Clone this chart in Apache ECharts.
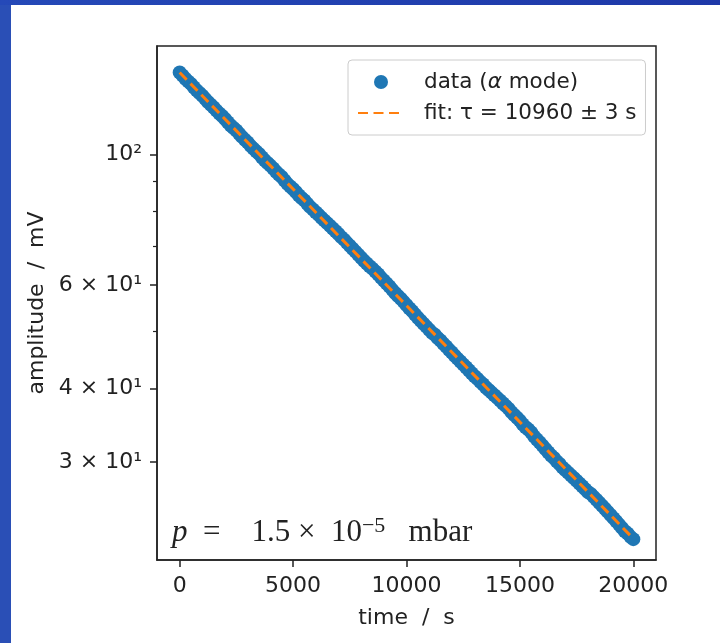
<!DOCTYPE html>
<html>
<head>
<meta charset="utf-8">
<script src="https://cdn.jsdelivr.net/npm/echarts@6/dist/echarts.min.js"></script>
<style>html,body{margin:0;padding:0;background:#fff;}#c{width:720px;height:643px;}</style>
</head>
<body>
<div id="c"></div>
<script>
// ---- data ----
const times = [0,125,250,375,500,625,750,875,1000,1125,1250,1375,1500,1625,1750,1875,2000,2125,2250,2375,2500,2625,2750,2875,3000,3125,3250,3375,3500,3625,3750,3875,4000,4125,4250,4375,4500,4625,4750,4875,5000,5125,5250,5375,5500,5625,5750,5875,6000,6125,6250,6375,6500,6625,6750,6875,7000,7125,7250,7375,7500,7625,7750,7875,8000,8125,8250,8375,8500,8625,8750,8875,9000,9125,9250,9375,9500,9625,9750,9875,10000,10125,10250,10375,10500,10625,10750,10875,11000,11125,11250,11375,11500,11625,11750,11875,12000,12125,12250,12375,12500,12625,12750,12875,13000,13125,13250,13375,13500,13625,13750,13875,14000,14125,14250,14375,14500,14625,14750,14875,15000,15125,15250,15375,15500,15625,15750,15875,16000,16125,16250,16375,16500,16625,16750,16875,17000,17125,17250,17375,17500,17625,17750,17875,18000,18125,18250,18375,18500,18625,18750,18875,19000,19125,19250,19375,19500,19625,19750,19875,20000];
const amplitudes = [137.9,136.3,134.6,133.2,131.9,130.2,128.6,127.3,125.9,124.4,122.9,121.6,120.3,118.8,117.5,116.3,115.0,113.5,112.1,111.0,109.9,108.5,107.2,106.0,104.9,103.5,102.4,101.3,100.3,99.0,97.8,96.8,95.8,94.7,93.5,92.5,91.6,90.4,89.2,88.3,87.4,86.4,85.3,84.4,83.6,82.5,81.5,80.7,79.8,79.0,78.1,77.3,76.5,75.7,74.9,74.1,73.3,72.4,71.7,70.8,70.0,69.2,68.4,67.6,66.8,66.0,65.3,64.6,64.0,63.3,62.6,61.8,61.1,60.4,59.7,58.9,58.2,57.5,56.9,56.2,55.5,54.8,54.2,53.5,52.8,52.2,51.6,51.0,50.4,49.8,49.4,48.8,48.3,47.7,47.2,46.6,46.1,45.5,45.0,44.5,44.0,43.5,43.0,42.5,42.0,41.6,41.1,40.7,40.2,39.8,39.4,39.0,38.6,38.2,37.8,37.4,37.0,36.5,36.1,35.7,35.3,34.8,34.4,34.1,33.7,33.2,32.8,32.4,32.0,31.6,31.2,30.8,30.5,30.1,29.8,29.4,29.1,28.8,28.5,28.2,27.9,27.6,27.3,27.0,26.7,26.5,26.2,25.9,25.6,25.3,25.0,24.7,24.4,24.1,23.8,23.5,23.2,22.9,22.7,22.4,22.2];
const fitTimes = [0, 20000];
const fitValues = [137.9, 22.25];
const xTicks = [0, 5000, 10000, 15000, 20000];
const yTicks = [30, 40, 60, 100];
const yTickLabels = ['3 × 10¹', '4 × 10¹', '6 × 10¹', '10²'];
const yMinorTicks = [50, 70, 80, 90];
const seriesNames = ['data (α mode)', 'fit: τ = 10960 ± 3 s'];

const TXT = '#222';
const FONT = 'DejaVu Sans';
const SERIF = 'Liberation Serif';
const chart = echarts.init(document.getElementById('c'), null, {renderer: 'canvas'});

const yLabel = v => {
  const i = yTicks.findIndex(t => Math.abs(t - v) < 1e-6 * t);
  return i >= 0 ? yTickLabels[i] : '';
};

chart.setOption({
  animation: false,
  backgroundColor: '#fff',
  graphic: [
    {type: 'rect', left: 0, top: 0, z: -10, shape: {width: 11, height: 643}, style: {fill: '#2a4fb6'}},
    {type: 'rect', left: 0, top: 0, z: -10, shape: {width: 720, height: 5},
      style: {fill: new echarts.graphic.LinearGradient(0, 0, 1, 0, [{offset: 0, color: '#2549b8'}, {offset: 1, color: '#1e38a8'}])}}
  ],
  title: {
    text: '{i|p}{n|  =    1.5 ×  10}{s|−5}{n|   mbar}',
    left: 172, top: 515, padding: 0,
    textStyle: {
      fontWeight: 'normal',
      rich: {
        i: {fontFamily: SERIF, fontStyle: 'italic', fontWeight: 'normal', fontSize: 31, lineHeight: 36, color: TXT},
        n: {fontFamily: SERIF, fontWeight: 'normal', fontSize: 31, lineHeight: 36, color: TXT},
        s: {fontFamily: SERIF, fontWeight: 'normal', fontSize: 22, lineHeight: 20, verticalAlign: 'top', color: TXT}
      }
    }
  },
  grid: {left: 157, top: 46, width: 499, height: 514, show: true, borderColor: TXT, borderWidth: 1.5, outerBoundsMode: 'none', containLabel: false},
  legend: {
    orient: 'vertical', left: 348, top: 60,
    itemWidth: 46, itemHeight: 14, itemGap: 7,
    padding: [10, 9, 10, 9],
    borderColor: '#cccccc', borderWidth: 1, borderRadius: 4, backgroundColor: '#fff',
    data: [
      {name: seriesNames[0]},
      {name: seriesNames[1], itemStyle: {color: 'rgba(0,0,0,0)', opacity: 0, borderWidth: 0}}
    ],
    formatter: name => name === seriesNames[0] ? '{n|data (}{it|α}{n| mode)}' : '{n|' + name + '}',
    textStyle: {
      fontSize: 21.5, color: TXT, fontFamily: FONT, lineHeight: 24, padding: [0, 0, 0, 15],
      rich: {
        n: {fontSize: 21.5, color: TXT, fontFamily: FONT, lineHeight: 24},
        it: {fontSize: 21.5, color: TXT, fontFamily: FONT, fontStyle: 'italic', lineHeight: 24}
      }
    }
  },
  xAxis: {
    type: 'value', min: -1000, max: 21000,
    name: 'time  /  s', nameLocation: 'middle', nameGap: 47,
    nameTextStyle: {fontSize: 22, color: TXT, fontFamily: FONT},
    axisLine: {show: true, onZero: false, lineStyle: {color: TXT, width: 1.5}},
    axisTick: {show: true, customValues: xTicks, length: 7, lineStyle: {color: TXT, width: 1.5}},
    axisLabel: {customValues: xTicks, formatter: v => String(v), fontSize: 22, color: TXT, fontFamily: FONT, margin: 15},
    splitLine: {show: false}
  },
  yAxis: [
    {
      type: 'log', logBase: 10, min: 20.46, max: 153,
      name: 'amplitude  /  mV', nameLocation: 'middle', nameGap: 105, nameRotate: 90,
      nameTextStyle: {fontSize: 22, color: TXT, fontFamily: FONT},
      axisLine: {show: true, onZero: false, lineStyle: {color: TXT, width: 1.5}},
      axisTick: {show: true, customValues: yTicks, length: 7, lineStyle: {color: TXT, width: 1.5}},
      axisLabel: {customValues: yTicks, formatter: yLabel, fontSize: 22, color: TXT, fontFamily: FONT, margin: 15},
      splitLine: {show: false}, minorTick: {show: false}
    },
    {
      type: 'log', logBase: 10, min: 20.46, max: 153, position: 'left',
      axisLine: {show: false, onZero: false},
      axisTick: {show: true, customValues: yMinorTicks, length: 4, lineStyle: {color: TXT, width: 1.2}},
      axisLabel: {show: false},
      splitLine: {show: false}
    }
  ],
  series: [
    {
      name: seriesNames[0], type: 'scatter', yAxisIndex: 0,
      data: times.map((t, i) => [t, amplitudes[i]]),
      symbol: 'circle', symbolSize: 14,
      itemStyle: {color: '#1f77b4', opacity: 1}, z: 2
    },
    {
      name: seriesNames[1], type: 'line', yAxisIndex: 0,
      data: fitTimes.map((t, i) => [t, fitValues[i]]),
      symbol: 'none',
      lineStyle: {color: '#ff7f0e', width: 3, type: [10, 5.5]},
      itemStyle: {color: '#ff7f0e'}, z: 3
    }
  ]
});
</script>
</body>
</html>
